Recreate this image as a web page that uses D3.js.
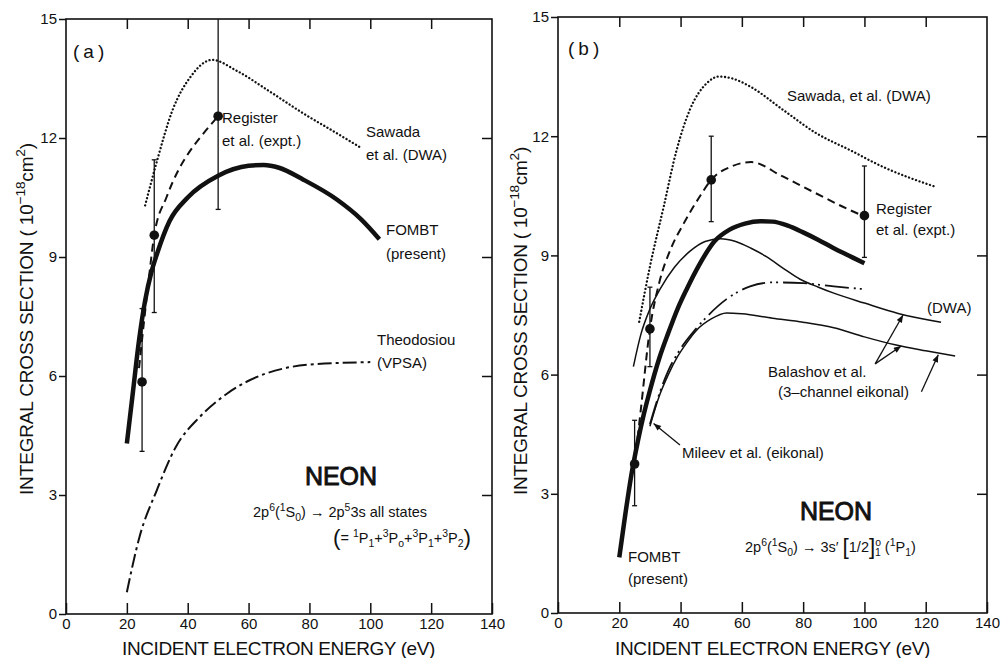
<!DOCTYPE html>
<html>
<head>
<meta charset="utf-8">
<script src="https://cdn.jsdelivr.net/npm/d3@7"></script>
<style>
body { margin: 0; background: #fff; }
svg text { font-family: "Liberation Sans", Arial, sans-serif; fill: #111; }
</style>
</head>
<body>
<script>
const width = 1001;
const height = 658;

// axis ticks
const energyTicks = [0, 20, 40, 60, 80, 100, 120, 140];
const crossTicks = [0, 3, 6, 9, 12, 15];

// panel (a) curves: [energy eV, cross section 1e-18 cm2]
const aFombt = [[20, 4.3], [22, 5.6], [24, 6.9], [26, 7.9], [28, 8.6], [30, 9.1], [34, 9.9], [40, 10.5], [50, 11.05],
  [60, 11.3], [65, 11.32], [70, 11.25], [78, 10.95], [89, 10.45], [97, 9.95], [103, 9.45]];
const aRegister = [[24, 6.2], [27, 8.3], [29, 9.55], [33, 10.5], [37, 11.2], [41, 11.7], [45, 12.1], [50, 12.55]];
const aSawada = [[26, 10.3], [30, 11.45], [35, 12.7], [41, 13.55], [48, 13.97], [56, 13.7], [67, 13.17], [78, 12.62],
  [89, 12.12], [97, 11.75]];
const aTheodosiou = [[20, 0.55], [24, 1.9], [30, 3.15], [36, 4.2], [44, 4.97], [53, 5.56], [60, 5.88], [71, 6.18],
  [82, 6.3], [100, 6.35]];
// panel (a) measurements
const aExptEnergy = [25, 29, 50];
const aExptValue = [5.85, 9.55, 12.55];
const aExptLow = [4.1, 7.6, 10.2];
const aExptHigh = [7.7, 11.45, 15];

// panel (b) curves
const bFombt = [[20, 1.4], [22, 2.5], [24, 3.5], [26, 4.3], [28, 5.0], [30, 5.6], [33, 6.4], [36, 7.05], [39, 7.65],
  [42, 8.15], [46, 8.75], [51, 9.35], [56, 9.65], [61, 9.8], [66, 9.86], [70, 9.85], [75, 9.75], [80, 9.58],
  [85, 9.39], [90, 9.18], [95, 8.99], [100, 8.8]];
const bRegister = [[25, 3.75], [27, 5.1], [30, 7.15], [33, 8.3], [37, 9.2], [41, 9.8], [46, 10.45], [50, 10.9],
  [57, 11.25], [63, 11.35], [73, 11.0], [84, 10.57], [95, 10.15], [100, 9.98]];
const bSawada = [[26.5, 7.33], [30, 8.72], [34.5, 10.23], [38.7, 11.65], [43, 12.66], [48.5, 13.33], [52.5, 13.5],
  [57, 13.45], [62.7, 13.25], [73.5, 12.66], [84.4, 12.07], [95.3, 11.65], [106, 11.23], [123, 10.73]];
const bBalashovDwa = [[24.6, 6.2], [27, 7.0], [30, 7.65], [33.3, 8.15], [38, 8.7], [43, 9.1], [48, 9.35], [53, 9.42],
  [58, 9.35], [63, 9.18], [68, 8.97], [74, 8.65], [79, 8.4], [85, 8.2], [90, 8.05], [100, 7.8], [111, 7.54], [125, 7.32]];
const bBalashovEik = [[30, 4.7], [33, 5.45], [36, 6.0], [39, 6.45], [42, 6.8], [45, 7.1], [50, 7.4], [55, 7.55],
  [60, 7.53], [70, 7.42], [80, 7.32], [90, 7.18], [100, 6.95], [110, 6.75], [120, 6.6], [129.6, 6.47]];
const bMileev = [[30, 4.75], [33, 5.5], [36, 6.1], [40, 6.65], [45, 7.15], [48.5, 7.45], [55, 7.9], [62.7, 8.22],
  [70, 8.32], [80, 8.3], [90, 8.22], [100, 8.15]];
// panel (b) measurements
const bExptEnergy = [25, 30, 50, 100];
const bExptValue = [3.75, 7.15, 10.9, 10.0];
const bExptLow = [2.7, 6.2, 9.85, 8.95];
const bExptHigh = [4.85, 8.2, 12.0, 11.25];

const svg = d3.select('body').append('svg')
    .attr('width', width)
    .attr('height', height);

svg.append('defs').append('marker')
    .attr('id', 'head')
    .attr('viewBox', '0 0 10 8')
    .attr('refX', 10).attr('refY', 4)
    .attr('markerWidth', 9).attr('markerHeight', 6)
    .attr('markerUnits', 'userSpaceOnUse')
    .attr('orient', 'auto')
    .append('path').attr('d', 'M0,0L10,4L0,8Z').attr('fill', '#111');

const styles = {
  fombt: { width: 4.5, dash: null },
  register: { width: 2, dash: '8,5' },
  sawada: { width: 2.3, dash: '0.1,3.6', cap: 'round' },
  theo: { width: 2, dash: '14,4,3,4' },
  thin: { width: 1.5, dash: null },
  mileev: { width: 1.8, dash: '24,5,2,4,2,5' }
};

// text with super/subscripts: parts = [[text, mode]]
function rich(g, px, py, parts, size, anchor) {
  const t = g.append('text').attr('x', px).attr('y', py)
      .attr('font-size', size).attr('text-anchor', anchor || 'start');
  let shift = 0;
  parts.forEach(([s, mode, dx]) => {
    let target = 0, fs = size;
    if (mode === 'sup') { target = -size * 0.42; fs = size * 0.72; }
    if (mode === 'sub') { target = size * 0.28; fs = size * 0.72; }
    if (mode === 'big') { target = size * 0.14; fs = size * 1.55; }
    t.append('tspan').attr('dy', target - shift).attr('dx', dx || 0)
        .attr('font-size', fs).text(s);
    shift = target;
  });
  return t;
}

function fit(t, target) {
  const len = t.node().getComputedTextLength();
  const n = t.text().length;
  t.attr('letter-spacing', (target - len) / n);
}

function panel(cfg) {
  const x = d3.scaleLinear().domain([0, 140]).range([cfg.left, cfg.right]);
  const y = d3.scaleLinear().domain([0, 15]).range([cfg.bottom, cfg.top]);
  const g = svg.append('g');

  const styleAxis = a => {
    a.select('.domain').remove();
    a.selectAll('line').attr('stroke', '#111').attr('stroke-width', 1.5);
    a.selectAll('text').attr('font-size', 15).attr('fill', '#111')
        .attr('font-family', '"Liberation Sans", Arial, sans-serif');
  };

  g.append('g').attr('transform', `translate(0,${cfg.bottom})`)
      .call(d3.axisBottom(x).tickValues(energyTicks).tickSizeInner(-11).tickSizeOuter(0).tickPadding(4))
      .call(styleAxis);
  g.append('g').attr('transform', `translate(0,${cfg.top})`)
      .call(d3.axisTop(x).tickValues(energyTicks.slice(1, -1)).tickSizeInner(-10).tickSizeOuter(0).tickFormat(''))
      .call(styleAxis);
  g.append('g').attr('transform', `translate(${cfg.left},0)`)
      .call(d3.axisLeft(y).tickValues(crossTicks).tickSizeInner(7).tickSizeOuter(0).tickPadding(2))
      .call(styleAxis);
  g.append('g').attr('transform', `translate(${cfg.right},0)`)
      .call(d3.axisRight(y).tickValues(crossTicks.slice(1, -1)).tickSizeInner(-10).tickSizeOuter(0).tickFormat(''))
      .call(styleAxis);

  g.append('rect')
      .attr('x', cfg.left).attr('y', cfg.top)
      .attr('width', cfg.right - cfg.left).attr('height', cfg.bottom - cfg.top)
      .attr('fill', 'none').attr('stroke', '#111').attr('stroke-width', 1.6);

  const line = d3.line()
      .x(d => x(d[0]))
      .y(d => y(d[1]))
      .curve(d3.curveMonotoneX);

  cfg.series.forEach(s => {
    const st = styles[s.style];
    g.append('path')
        .attr('d', line(s.data))
        .attr('fill', 'none')
        .attr('stroke', '#111')
        .attr('stroke-width', st.width)
        .attr('stroke-dasharray', st.dash)
        .attr('stroke-linecap', st.cap || 'butt')
        .attr('stroke-linejoin', 'round');
  });

  // error bars and points
  cfg.expt.energy.forEach((e, i) => {
    const px = x(e);
    g.append('line')
        .attr('x1', px).attr('x2', px)
        .attr('y1', y(cfg.expt.low[i])).attr('y2', y(cfg.expt.high[i]))
        .attr('stroke', '#111').attr('stroke-width', 1.3);
    [cfg.expt.low[i], cfg.expt.high[i]].forEach(v => {
      if (v >= 15) return;
      g.append('line')
          .attr('x1', px - 2.5).attr('x2', px + 2.5)
          .attr('y1', y(v)).attr('y2', y(v))
          .attr('stroke', '#111').attr('stroke-width', 1.3);
    });
    g.append('circle')
        .attr('cx', px).attr('cy', y(cfg.expt.value[i]))
        .attr('r', 4.8).attr('fill', '#111');
  });

  (cfg.arrows || []).forEach(a => {
    g.append('line')
        .attr('x1', x(a[0][0])).attr('y1', y(a[0][1]))
        .attr('x2', x(a[1][0])).attr('y2', y(a[1][1]))
        .attr('stroke', '#111').attr('stroke-width', 1.3)
        .attr('marker-end', 'url(#head)');
  });

  // axis titles
  const xt = g.append('text').attr('x', cfg.xTitle[0]).attr('y', cfg.xTitle[1])
      .attr('font-size', 19).text('INCIDENT ELECTRON ENERGY (eV)');
  fit(xt, cfg.xTitle[2]);

  const yg = g.append('g').attr('transform', `translate(${cfg.yTitle[0]},${cfg.yTitle[1]}) rotate(-90)`);
  const yt = rich(yg, 0, 0, [['INTEGRAL CROSS SECTION ( 10', ''], ['\u221218', 'sup'], ['cm', ''], ['2', 'sup'], [')', '']], 19);
  fit(yt, cfg.yTitle[2]);

  cfg.labels.forEach(l => {
    const t = g.append('text').attr('x', l.x).attr('y', l.y)
        .attr('font-size', l.size || 15)
        .attr('text-anchor', l.anchor || 'start')
        .text(l.t);
    if (l.ls) t.attr('letter-spacing', l.ls);
    if (l.heavy) t.attr('stroke', '#111').attr('stroke-width', 0.9);
  });

  return g;
}

// ---------- panel (a)
const ga = panel({
  left: 66, right: 492, top: 19, bottom: 614,
  series: [
    { data: aTheodosiou, style: 'theo' },
    { data: aSawada, style: 'sawada' },
    { data: aRegister, style: 'register' },
    { data: aFombt, style: 'fombt' }
  ],
  expt: { energy: aExptEnergy, value: aExptValue, low: aExptLow, high: aExptHigh },
  xTitle: [122, 655, 313],
  yTitle: [33, 495, 352],
  labels: [
    { t: '(a)', x: 73, y: 58, size: 19, ls: 4 },
    { t: 'Register', x: 222, y: 123 },
    { t: 'et al. (expt.)', x: 222, y: 146 },
    { t: 'Sawada', x: 366, y: 137 },
    { t: 'et al. (DWA)', x: 366, y: 160 },
    { t: 'FOMBT', x: 386, y: 235 },
    { t: '(present)', x: 386, y: 259 },
    { t: 'Theodosiou', x: 377, y: 345 },
    { t: '(VPSA)', x: 377, y: 368 },
    { t: 'NEON', x: 341, y: 485, size: 25, anchor: 'middle', heavy: true }
  ]
});
rich(ga, 253, 517, [['2p', ''], ['6', 'sup'], ['(', ''], ['1', 'sup'], ['S', ''], ['0', 'sub'],
  [') \u2192 2p', ''], ['5', 'sup'], ['3s  all states', '']], 14.5);
rich(ga, 333, 543, [['(', 'big'], ['= ', ''], ['1', 'sup'], ['P', ''], ['1', 'sub'], ['+', ''], ['3', 'sup'], ['P', ''],
  ['o', 'sub'], ['+', ''], ['3', 'sup'], ['P', ''], ['1', 'sub'], ['+', ''], ['3', 'sup'], ['P', ''], ['2', 'sub'],
  [')', 'big']], 14.5);

// ---------- panel (b)
const gb = panel({
  left: 558, right: 987, top: 17, bottom: 613,
  series: [
    { data: bSawada, style: 'sawada' },
    { data: bRegister, style: 'register' },
    { data: bBalashovDwa, style: 'thin' },
    { data: bBalashovEik, style: 'thin' },
    { data: bMileev, style: 'mileev' },
    { data: bFombt, style: 'fombt' }
  ],
  expt: { energy: bExptEnergy, value: bExptValue, low: bExptLow, high: bExptHigh },
  arrows: [
    [[103.5, 6.27], [112.6, 7.5]],
    [[103.5, 6.27], [112.0, 6.72]],
    [[118.6, 5.57], [124.1, 6.5]],
    [[39.8, 4.23], [31.2, 4.77]]
  ],
  xTitle: [615, 655, 315],
  yTitle: [527, 495, 348],
  labels: [
    { t: '(b)', x: 568, y: 55, size: 19, ls: 4 },
    { t: 'Sawada, et al. (DWA)', x: 787, y: 101 },
    { t: 'Register', x: 876, y: 214 },
    { t: 'et al. (expt.)', x: 876, y: 235 },
    { t: '(DWA)', x: 927, y: 313 },
    { t: 'Balashov  et al.', x: 768, y: 377 },
    { t: '(3\u2013channel eikonal)', x: 778, y: 397 },
    { t: 'Mileev  et al. (eikonal)', x: 682, y: 458 },
    { t: 'FOMBT', x: 628, y: 562 },
    { t: '(present)', x: 628, y: 584 },
    { t: 'NEON', x: 836, y: 520, size: 25, anchor: 'middle', heavy: true }
  ]
});
rich(gb, 745, 552, [['2p', ''], ['6', 'sup'], ['(', ''], ['1', 'sup'], ['S', ''], ['0', 'sub'],
  [') \u2192 3s\u2032 ', ''], ['[', 'big'], ['1/2', ''], [']', 'big'], ['o', 'sup'], ['1', 'sub', -6],
  [' (', ''], ['1', 'sup'], ['P', ''], ['1', 'sub'], [')', '']], 14.5);
</script>
</body>
</html>
